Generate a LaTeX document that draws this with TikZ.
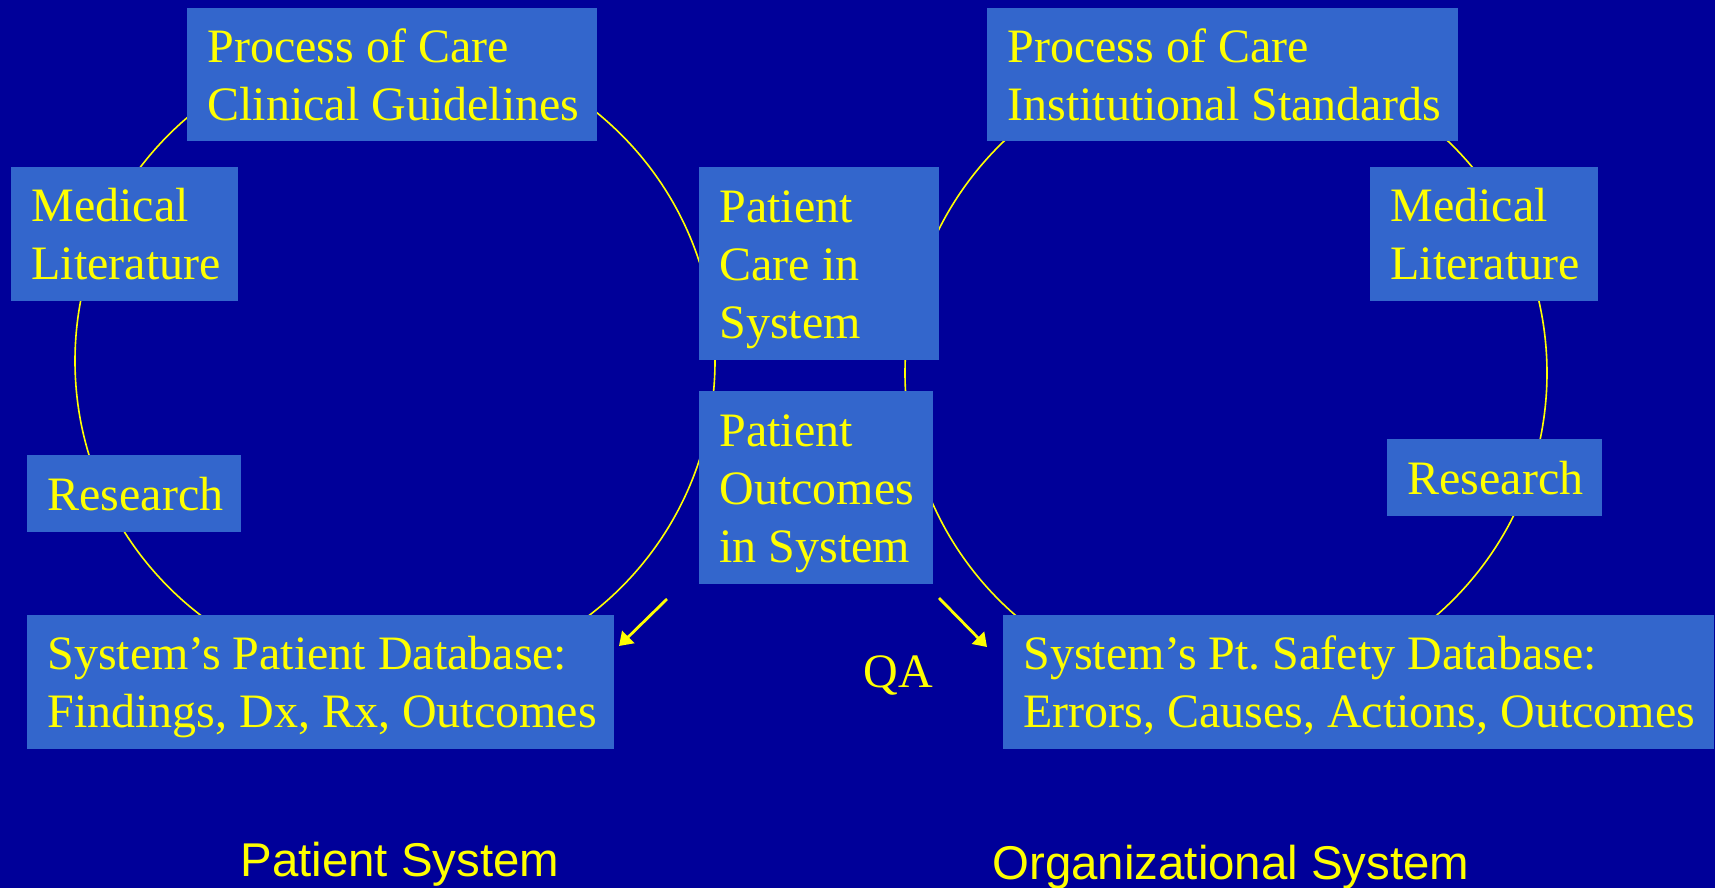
\documentclass[tikz,border=0pt]{standalone}
\usepackage{fontspec}
\setmainfont{Liberation Serif}
\setsansfont{Liberation Sans}
\usetikzlibrary{arrows.meta}

\definecolor{slidebg}{RGB}{0,0,153}
\definecolor{cardfill}{RGB}{51,102,204}
\definecolor{ink}{RGB}{255,255,0}

\frenchspacing

\begin{document}
\begin{tikzpicture}[x=0.5pt,y=-0.5pt,
  card/.style={fill=cardfill, text=ink, anchor=north west, align=left,
    inner xsep=10pt, inner ysep=0pt, text height=16.5pt,
    font=\fontsize{24}{29}\selectfont,
    execute at begin node={\spaceskip=0pt\xspaceskip=0pt}},
  oneline/.style={text depth=0pt},
  twolines/.style={text depth=29pt},
  threelines/.style={text depth=58pt},
  ring/.style={draw=ink, line width=0.8pt},
  flow/.style={draw=ink, line width=1.4pt, -{Triangle[length=6.5pt,width=8.5pt]}},
  caption/.style={text=ink, anchor=base, inner sep=0pt,
    font=\sffamily\fontsize{23.7}{28}\selectfont},
  tag/.style={text=ink, anchor=base west, inner sep=0pt,
    font=\fontsize{24}{29}\selectfont}]

% slide background
\fill[slidebg] (0,0) rectangle (1715,888);
\useasboundingbox (0,0) rectangle (1715,888);

% the two cycles
\draw[ring] (395,361) circle [radius=320];
\draw[ring] (1226,373) circle [radius=321];

% patient system cycle
\node[card, twolines, text width=185pt, minimum height=66.5pt] (pcl) at (187,8)
  {\mbox{Process of Care}\\\mbox{Clinical Guidelines}};
\node[card, twolines, text width=93.5pt, minimum height=67pt] (mll) at (11,167)
  {\mbox{Medical}\\\mbox{Literature}};
\node[card, oneline, text width=87pt, minimum height=38.5pt] (rsl) at (27,455)
  {\mbox{Research}};
\node[card, twolines, text width=273.5pt, minimum height=67pt] (dbl) at (27,615)
  {\mbox{System’s Patient Database:}\\\mbox{Findings, Dx, Rx, Outcomes}};

% shared centre boxes
\node[card, threelines, text width=100pt, minimum height=96.5pt] (care) at (699,167)
  {\mbox{Patient}\\\mbox{Care in}\\\mbox{System}};
\node[card, threelines, text width=97pt, minimum height=96.5pt] (outc) at (699,391)
  {\mbox{Patient}\\\mbox{Outcomes}\\\mbox{in System}};

% organizational system cycle
\node[card, twolines, text width=215.5pt, minimum height=66.5pt] (pcr) at (987,8)
  {\mbox{Process of Care}\\\mbox{Institutional Standards}};
\node[card, twolines, text width=94pt, minimum height=67pt] (mlr) at (1370,167)
  {\mbox{Medical}\\\mbox{Literature}};
\node[card, oneline, text width=87.5pt, minimum height=38.5pt] (rsr) at (1387,439)
  {\mbox{Research}};
\node[card, twolines, text width=335.5pt, minimum height=67pt] (dbr) at (1003,615)
  {\mbox{System’s Pt. Safety Database:}\\\mbox{Errors, Causes, Actions, Outcomes}};

% outcome feeds
\coordinate (fl) at (667,599);
\coordinate (fle) at (619,646);
\coordinate (fr) at (939,598);
\coordinate (fre) at (987,647);
\draw[flow] (fl) -- (fle);
\draw[flow] (fr) -- (fre);
\node[tag] (qa) at (863,687) {QA};

% captions
\node[caption] (capl) at (400,876) {Patient System};
\node[caption] (capr) at (1231,879) {Organizational System};
\end{tikzpicture}
\end{document}
